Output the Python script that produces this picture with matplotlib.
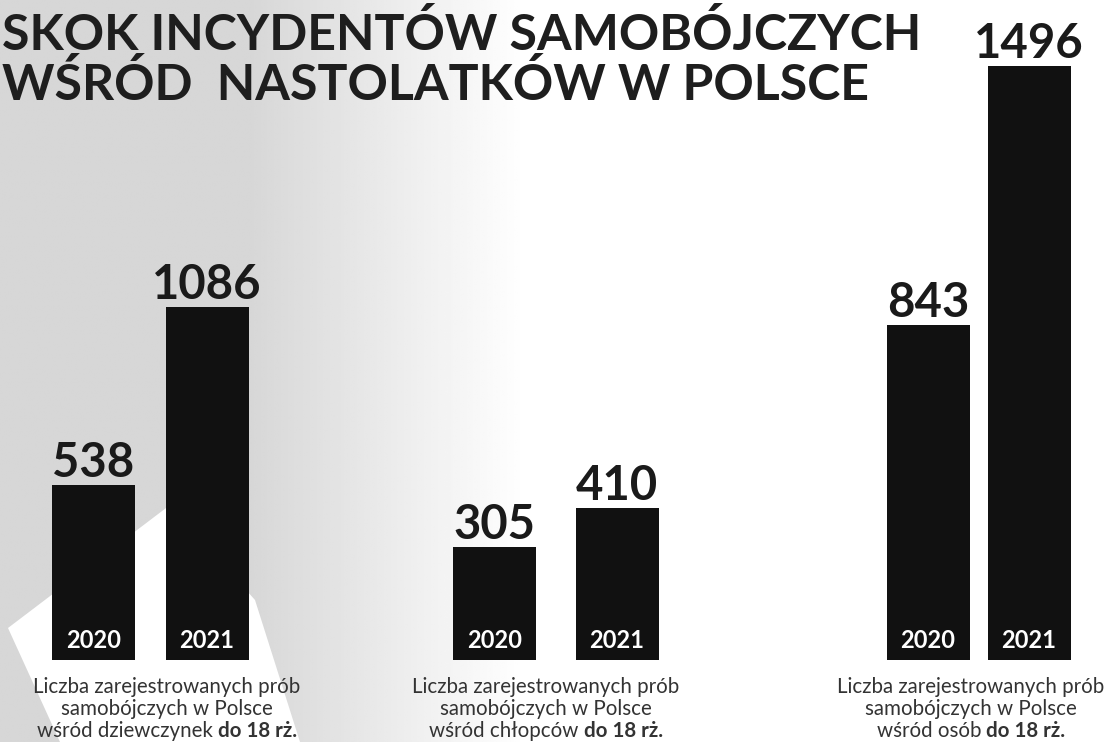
import numpy as np
import matplotlib
matplotlib.use("Agg")
import matplotlib.pyplot as plt
from matplotlib.patches import Polygon

# === data ===
years = ["2020", "2021"]
girls = [538, 1086]
boys = [305, 410]
all_teens = [843, 1496]
groups = [girls, boys, all_teens]
who = ["wśród dziewczynek ", "wśród chłopców ", "wśród osób "]
title_lines = ["SKOK INCYDENTÓW SAMOBÓJCZYCH", "WŚRÓD  NASTOLATKÓW W POLSCE"]

# === layout (pixels) ===
W, H = 1119, 742
bar_centers = [(93.5, 207), (494.5, 617), (928, 1029)]
bar_width_px = 83
px_per_unit = [0.325, 0.37, 0.397]
caption_x = [167, 546, 971]
base_y = 660
top_y = 40
FONT = ["Lato", "DejaVu Sans"]
BAR = "#111111"
TXT = "#333333"


def fx(x):
    return x / W


def fy(y):
    return 1 - y / H


fig = plt.figure(figsize=(W / 100, H / 100), dpi=100)

# background: gray on the left fading to white, white wedge bottom-left
bg = fig.add_axes([0, 0, 1, 1], zorder=0)
xs = np.linspace(0, 1, 500)
shade = np.clip((xs - 0.22) / 0.25, 0, 1)
grad = np.tile(0.84 + 0.16 * shade, (60, 1))
bg.imshow(grad, cmap="gray", vmin=0, vmax=1, extent=[0, W, H, 0], aspect="auto")
bg.add_patch(Polygon([(8, 628), (170, 505), (255, 600), (300, 742), (60, 742)],
                     closed=True, color="white", lw=0))
bg.set_xlim(0, W)
bg.set_ylim(H, 0)
bg.axis("off")

# title (kept inside the figure, left edge at the border)
fig.text(fx(2), fy(50), title_lines[0], ha="left", va="baseline", fontsize=36,
         fontweight="bold", family=FONT, color="#1e1e1e")
fig.text(fx(2), fy(100), title_lines[1], ha="left", va="baseline", fontsize=36,
         fontweight="bold", family=FONT, color="#1e1e1e")

# bars, one axes per group
for vals, (c1, c2), scale in zip(groups, bar_centers, px_per_unit):
    pitch = c2 - c1
    left = c1 - pitch / 2
    ax = fig.add_axes([fx(left), fy(base_y), 2 * pitch / W, (base_y - top_y) / H], zorder=2)
    ax.patch.set_alpha(0)
    ax.bar([0, 1], vals, width=bar_width_px / pitch, color=BAR)
    ax.set_xlim(-0.5, 1.5)
    ax.set_ylim(0, (base_y - top_y) / scale)
    ax.axis("off")
    for i, v in enumerate(vals):
        ax.annotate(str(v), xy=(i, v), xytext=(0, 8), textcoords="offset pixels",
                    ha="center", va="baseline", fontsize=34, fontweight="bold",
                    family=FONT, color="#1a1a1a")
        ax.annotate(years[i], xy=(i, 0), xytext=(0, 20), textcoords="offset pixels",
                    ha="center", va="center", fontsize=17, fontweight="bold",
                    family=FONT, color="white")

# captions
renderer = fig.canvas.get_renderer()
for xc, w in zip(caption_x, who):
    fig.text(fx(xc), fy(687), "Liczba zarejestrowanych prób", ha="center", va="center",
             fontsize=14.8, family=FONT, color=TXT)
    fig.text(fx(xc), fy(709), "samobójczych w Polsce", ha="center", va="center",
             fontsize=14.8, family=FONT, color=TXT)
    parts = [(w, "normal"), ("do 18 rż.", "bold")]
    texts = [fig.text(0, 0, s, va="center", fontsize=14.8, fontweight=wt,
                      family=FONT, color=TXT) for s, wt in parts]
    widths = [t.get_window_extent(renderer).width for t in texts]
    x = xc - sum(widths) / 2
    for t, wd in zip(texts, widths):
        t.set_position((fx(x), fy(731)))
        x += wd

fig.savefig("out.png", dpi=100)
